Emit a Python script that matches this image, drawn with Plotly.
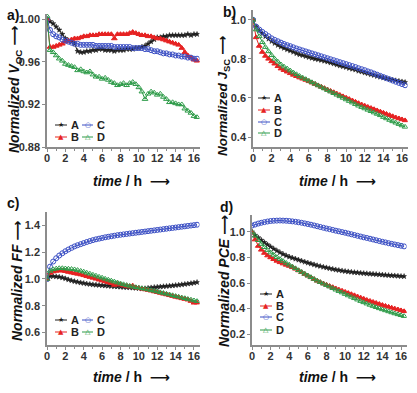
import plotly.graph_objects as go

W, H = 417, 393

time_h = [0, 0.33, 0.67, 1, 1.33, 1.67, 2, 2.33, 2.67, 3,
          3.33, 3.67, 4, 4.33, 4.67, 5, 5.33, 5.67, 6, 6.33,
          6.67, 7, 7.33, 7.67, 8, 8.33, 8.67, 9, 9.33, 9.67,
          10, 10.33, 10.67, 11, 11.33, 11.67, 12, 12.33, 12.67, 13,
          13.33, 13.67, 14, 14.33, 14.67, 15, 15.33, 15.67, 16, 16.33]

# Panel a: Normalized Voc
voc_A = [1.000, 0.998, 0.996, 0.993, 0.990, 0.986, 0.982, 0.980, 0.979, 0.977,
         0.970, 0.969, 0.969, 0.970, 0.970, 0.971, 0.971, 0.972, 0.972, 0.971,
         0.971, 0.971, 0.970, 0.971, 0.971, 0.971, 0.972, 0.972, 0.972, 0.973,
         0.973, 0.974, 0.975, 0.977, 0.979, 0.981, 0.983, 0.983, 0.984, 0.984,
         0.985, 0.985, 0.985, 0.985, 0.985, 0.985, 0.986, 0.985, 0.986, 0.986]
voc_B = [1.000, 0.974, 0.974, 0.975, 0.976, 0.977, 0.979, 0.980, 0.981, 0.982,
         0.982, 0.983, 0.984, 0.984, 0.985, 0.985, 0.985, 0.986, 0.986, 0.986,
         0.986, 0.986, 0.982, 0.986, 0.986, 0.986, 0.986, 0.987, 0.988, 0.987,
         0.986, 0.985, 0.985, 0.984, 0.984, 0.983, 0.982, 0.982, 0.981, 0.980,
         0.979, 0.978, 0.977, 0.976, 0.973, 0.969, 0.966, 0.964, 0.962, 0.961]
voc_C = [1.000, 0.990, 0.986, 0.984, 0.983, 0.981, 0.980, 0.979, 0.978, 0.977,
         0.977, 0.976, 0.976, 0.976, 0.976, 0.976, 0.975, 0.975, 0.975, 0.975,
         0.975, 0.975, 0.974, 0.974, 0.974, 0.974, 0.974, 0.974, 0.973, 0.973,
         0.973, 0.973, 0.972, 0.972, 0.971, 0.970, 0.970, 0.969, 0.968, 0.968,
         0.967, 0.967, 0.966, 0.966, 0.965, 0.965, 0.964, 0.964, 0.963, 0.963]
voc_D = [1.003, 0.971, 0.969, 0.966, 0.963, 0.961, 0.958, 0.957, 0.956, 0.955,
         0.952, 0.953, 0.951, 0.950, 0.951, 0.948, 0.946, 0.946, 0.944, 0.945,
         0.943, 0.941, 0.940, 0.938, 0.939, 0.940, 0.938, 0.940, 0.941, 0.939,
         0.936, 0.932, 0.925, 0.930, 0.932, 0.931, 0.929, 0.930, 0.927, 0.925,
         0.922, 0.922, 0.921, 0.920, 0.920, 0.916, 0.914, 0.912, 0.909, 0.908]

# Panel b: Normalized Jsc
jsc_A = [1.000, 0.965, 0.945, 0.930, 0.915, 0.902, 0.890, 0.880, 0.870, 0.862,
         0.855, 0.848, 0.842, 0.835, 0.828, 0.822, 0.818, 0.813, 0.808, 0.804,
         0.800, 0.797, 0.793, 0.789, 0.785, 0.780, 0.775, 0.770, 0.765, 0.761,
         0.757, 0.752, 0.748, 0.744, 0.738, 0.734, 0.729, 0.725, 0.720, 0.716,
         0.711, 0.707, 0.703, 0.699, 0.695, 0.692, 0.689, 0.686, 0.683, 0.680]
jsc_B = [1.000, 0.910, 0.866, 0.835, 0.815, 0.800, 0.787, 0.775, 0.762, 0.750,
         0.742, 0.734, 0.726, 0.718, 0.711, 0.704, 0.698, 0.692, 0.685, 0.678,
         0.671, 0.664, 0.657, 0.650, 0.643, 0.636, 0.629, 0.622, 0.615, 0.608,
         0.601, 0.594, 0.587, 0.580, 0.573, 0.566, 0.560, 0.554, 0.548, 0.542,
         0.536, 0.530, 0.524, 0.518, 0.512, 0.506, 0.500, 0.495, 0.490, 0.485]
jsc_C = [1.000, 0.965, 0.950, 0.938, 0.927, 0.916, 0.905, 0.897, 0.890, 0.883,
         0.876, 0.870, 0.865, 0.859, 0.853, 0.848, 0.843, 0.838, 0.833, 0.828,
         0.823, 0.818, 0.813, 0.808, 0.803, 0.798, 0.793, 0.788, 0.783, 0.778,
         0.773, 0.768, 0.763, 0.758, 0.752, 0.747, 0.742, 0.736, 0.731, 0.725,
         0.719, 0.713, 0.707, 0.701, 0.695, 0.689, 0.683, 0.677, 0.671, 0.665]
jsc_D = [1.000, 0.950, 0.915, 0.885, 0.860, 0.838, 0.818, 0.800, 0.785, 0.771,
         0.760, 0.750, 0.740, 0.730, 0.721, 0.712, 0.704, 0.696, 0.688, 0.680,
         0.672, 0.664, 0.656, 0.648, 0.640, 0.632, 0.624, 0.616, 0.608, 0.600,
         0.592, 0.584, 0.576, 0.568, 0.560, 0.553, 0.546, 0.539, 0.532, 0.525,
         0.518, 0.511, 0.502, 0.495, 0.487, 0.480, 0.473, 0.466, 0.459, 0.452]

# Panel c: Normalized FF
ff_A = [1.000, 1.020, 1.020, 1.018, 1.015, 1.010, 1.003, 0.995, 0.988, 0.982,
        0.977, 0.972, 0.968, 0.964, 0.961, 0.958, 0.956, 0.954, 0.952, 0.950,
        0.948, 0.946, 0.944, 0.942, 0.940, 0.939, 0.937, 0.936, 0.934, 0.932,
        0.930, 0.928, 0.929, 0.932, 0.935, 0.938, 0.940, 0.942, 0.944, 0.946,
        0.948, 0.950, 0.953, 0.955, 0.958, 0.961, 0.964, 0.967, 0.971, 0.975]
ff_B = [1.000, 1.045, 1.055, 1.060, 1.063, 1.062, 1.058, 1.052, 1.047, 1.042,
        1.038, 1.033, 1.027, 1.020, 1.014, 1.008, 1.001, 0.994, 0.988, 0.981,
        0.975, 0.968, 0.955, 0.962, 0.957, 0.952, 0.947, 0.943, 0.950, 0.936,
        0.931, 0.927, 0.922, 0.917, 0.912, 0.906, 0.901, 0.895, 0.889, 0.884,
        0.878, 0.872, 0.866, 0.861, 0.855, 0.850, 0.845, 0.835, 0.822, 0.823]
ff_C = [1.000, 1.092, 1.130, 1.155, 1.175, 1.192, 1.207, 1.220, 1.232, 1.243,
        1.252, 1.260, 1.268, 1.276, 1.283, 1.290, 1.296, 1.301, 1.306, 1.311,
        1.315, 1.319, 1.323, 1.327, 1.330, 1.333, 1.336, 1.339, 1.342, 1.345,
        1.348, 1.351, 1.354, 1.357, 1.360, 1.363, 1.366, 1.369, 1.372, 1.375,
        1.378, 1.381, 1.384, 1.387, 1.390, 1.393, 1.396, 1.399, 1.402, 1.405]
ff_D = [1.000, 1.060, 1.072, 1.077, 1.080, 1.080, 1.078, 1.076, 1.074, 1.071,
        1.066, 1.060, 1.054, 1.046, 1.039, 1.031, 1.024, 1.016, 1.009, 1.001,
        0.994, 0.987, 0.980, 0.973, 0.966, 0.960, 0.954, 0.948, 0.943, 0.938,
        0.934, 0.930, 0.926, 0.921, 0.916, 0.911, 0.906, 0.900, 0.895, 0.889,
        0.884, 0.878, 0.872, 0.867, 0.861, 0.856, 0.850, 0.845, 0.839, 0.834]

# Panel d: Normalized PCE
pce_A = [1.000, 0.975, 0.955, 0.936, 0.918, 0.900, 0.884, 0.868, 0.853, 0.839,
         0.826, 0.815, 0.805, 0.797, 0.789, 0.781, 0.773, 0.765, 0.758, 0.751,
         0.744, 0.737, 0.731, 0.725, 0.720, 0.714, 0.709, 0.704, 0.700, 0.696,
         0.692, 0.689, 0.686, 0.683, 0.681, 0.678, 0.676, 0.674, 0.672, 0.670,
         0.668, 0.666, 0.664, 0.662, 0.660, 0.658, 0.657, 0.655, 0.653, 0.652]
pce_B = [1.000, 0.940, 0.890, 0.860, 0.835, 0.815, 0.800, 0.786, 0.773, 0.762,
         0.752, 0.742, 0.733, 0.723, 0.711, 0.698, 0.684, 0.670, 0.657, 0.644,
         0.630, 0.617, 0.606, 0.596, 0.586, 0.576, 0.567, 0.557, 0.548, 0.539,
         0.530, 0.521, 0.512, 0.503, 0.494, 0.485, 0.476, 0.467, 0.459, 0.451,
         0.443, 0.435, 0.427, 0.420, 0.413, 0.406, 0.399, 0.392, 0.385, 0.378]
pce_C = [1.050, 1.058, 1.066, 1.072, 1.077, 1.082, 1.086, 1.088, 1.089, 1.090,
         1.089, 1.088, 1.086, 1.083, 1.080, 1.076, 1.072, 1.067, 1.062, 1.057,
         1.051, 1.045, 1.039, 1.033, 1.027, 1.022, 1.016, 1.010, 1.005, 0.999,
         0.994, 0.988, 0.982, 0.976, 0.970, 0.964, 0.958, 0.953, 0.947, 0.941,
         0.935, 0.929, 0.923, 0.918, 0.912, 0.907, 0.902, 0.897, 0.892, 0.887]
pce_D = [1.000, 0.970, 0.935, 0.905, 0.880, 0.858, 0.838, 0.820, 0.802, 0.787,
         0.772, 0.757, 0.743, 0.729, 0.715, 0.700, 0.686, 0.672, 0.658, 0.645,
         0.631, 0.618, 0.606, 0.594, 0.583, 0.571, 0.559, 0.547, 0.536, 0.525,
         0.513, 0.502, 0.491, 0.480, 0.469, 0.458, 0.448, 0.438, 0.428, 0.419,
         0.410, 0.401, 0.393, 0.385, 0.377, 0.369, 0.361, 0.354, 0.347, 0.340]

x_ticks = [0, 2, 4, 6, 8, 10, 12, 14, 16]
yticks_a = [0.88, 0.92, 0.96, 1.00]
yticks_b = [0.4, 0.6, 0.8, 1.0]
yticks_c = [0.6, 0.8, 1.0, 1.2, 1.4]
yticks_d = [0.2, 0.4, 0.6, 0.8, 1.0]
series_names = ["A", "B", "C", "D"]

# ---- styles ----
FONT = "Liberation Sans, Arial, DejaVu Sans, sans-serif"
COL = {"A": "#1e1e1e", "B": "#e62222", "C": "#3b4fc4", "D": "#2d9b48"}
SYM = {"A": "star", "B": "triangle-up", "C": "circle-open", "D": "triangle-up-open"}
MSIZE = {"A": 4, "B": 5, "C": 5, "D": 5}
MLW = {"A": 0.5, "B": 1, "C": 1, "D": 1}
GLYPH = {"A": "★", "B": "▲", "C": "○", "D": "△"}
AXC = "#8c8c8c"


def px(x):
    return x / W


def py(y):
    return 1 - y / H


panels = [
    # key, data, xdom(px), ydom(px), yrange, ticks, fmt
    ("a", [voc_A, voc_B, voc_C, voc_D], (47, 199.5), (147, 14), (0.88, 1.005), yticks_a, ".2f"),
    ("b", [jsc_A, jsc_B, jsc_C, jsc_D], (253, 407.6), (147, 10), (0.349, 1.05), yticks_b, ".1f"),
    ("c", [ff_A, ff_B, ff_C, ff_D], (47, 199.5), (345, 212), (0.507, 1.5), yticks_c, ".1f"),
    ("d", [pce_A, pce_B, pce_C, pce_D], (252, 406.6), (345, 215), (0.114, 1.133), yticks_d, ".1f"),
]

fig = go.Figure()
layout = {}
for i, (key, data, xd, yd, yr, yt, fmt) in enumerate(panels):
    n = "" if i == 0 else str(i + 1)
    for name, vals in zip(series_names, data):
        fig.add_trace(go.Scatter(
            x=time_h, y=vals, mode="lines+markers", name=name, showlegend=False,
            xaxis="x" + n, yaxis="y" + n,
            line=dict(color=COL[name], width=1),
            marker=dict(symbol=SYM[name], size=MSIZE[name], color=COL[name],
                        line=dict(color=COL[name], width=MLW[name])),
        ))
    common = dict(showline=True, linecolor=AXC, linewidth=1.5, ticks="outside",
                  ticklen=3, tickwidth=1.2, tickcolor=AXC, showgrid=False,
                  zeroline=False, automargin=False,
                  tickfont=dict(family=FONT, size=11, color="#333333", weight="bold"))
    layout["xaxis" + n] = dict(common, domain=[px(xd[0]), px(xd[1])], range=[0, 16.6],
                               anchor="y" + n, tickvals=x_ticks,
                               ticktext=[str(v) for v in x_ticks],
                               ticklabelstandoff=-3,
                               minor=dict(ticks="outside", ticklen=2, dtick=1, tickcolor=AXC))
    layout["yaxis" + n] = dict(common, domain=[py(yd[0]), py(yd[1])], range=list(yr),
                               anchor="x" + n, tickvals=yt,
                               ticktext=[format(v, fmt) for v in yt])

fig.update_layout(**layout)

ann = []
shapes = []


def note(text, x, y, size, color="#111111", family=FONT, xanchor="center", angle=0):
    return dict(text=text, x=px(x), y=py(y), xref="paper", yref="paper", showarrow=False,
                xanchor=xanchor, yanchor="middle", textangle=angle,
                font=dict(family=family, size=size, color=color))


# panel labels
for lab, (x, y) in {"a)": (13, 15), "b)": (229, 12), "c)": (13, 203), "d)": (227, 207)}.items():
    ann.append(note("<b>%s</b>" % lab, x, y, 14))

# x titles
for (x, y) in [(131, 181), (337, 181), (131, 377), (337, 377)]:
    ann.append(note("<b><i>time</i> / h  ⟶</b>", x, y, 14))

# y titles
ytitles = [
    ("<b><i>Normalized V</i><sub>OC</sub> ⟶</b>", 15, 90, 14),
    ("<b><i>Normalized J</i><sub>SC</sub> ⟶</b>", 224, 96, 13.5),
    ("<b><i>Normalized FF</i> ⟶</b>", 17, 281, 14),
    ("<b><i>Normalized PCE</i> ⟶</b>", 224, 281, 14),
]
for t, x, y, s in ytitles:
    ann.append(note(t, x, y, s, angle=-90))

# legends: (name, line x0, x1, y)
legend_items = [
    ("A", 55, 67, 125), ("B", 55, 67, 137), ("C", 82, 93, 125), ("D", 82, 93, 137),
    ("A", 258, 270, 98), ("B", 258, 270, 110), ("C", 258, 270, 122), ("D", 258, 270, 133),
    ("A", 55, 67, 320), ("B", 55, 67, 332), ("C", 82, 93, 320), ("D", 82, 93, 332),
    ("A", 260, 272, 294), ("B", 260, 272, 306), ("C", 260, 272, 317), ("D", 260, 272, 330),
]
for name, x0, x1, y in legend_items:
    shapes.append(dict(type="line", xref="paper", yref="paper", x0=px(x0), x1=px(x1),
                       y0=py(y), y1=py(y), line=dict(color=COL[name], width=1)))
    ann.append(note(GLYPH[name], (x0 + x1) / 2, y, 7, color=COL[name], family="DejaVu Sans"))
    ann.append(note("<b>%s</b>" % name, x1 + 2, y, 11, color="#222222", xanchor="left"))

fig.update_layout(
    width=W, height=H, margin=dict(l=0, r=0, t=0, b=0),
    paper_bgcolor="white", plot_bgcolor="white", showlegend=False,
    annotations=ann, shapes=shapes,
)

fig.write_html("out.html", config={"displayModeBar": False},
               post_script="document.body.style.margin='0px';"
                           "document.body.style.overflow='hidden';")
